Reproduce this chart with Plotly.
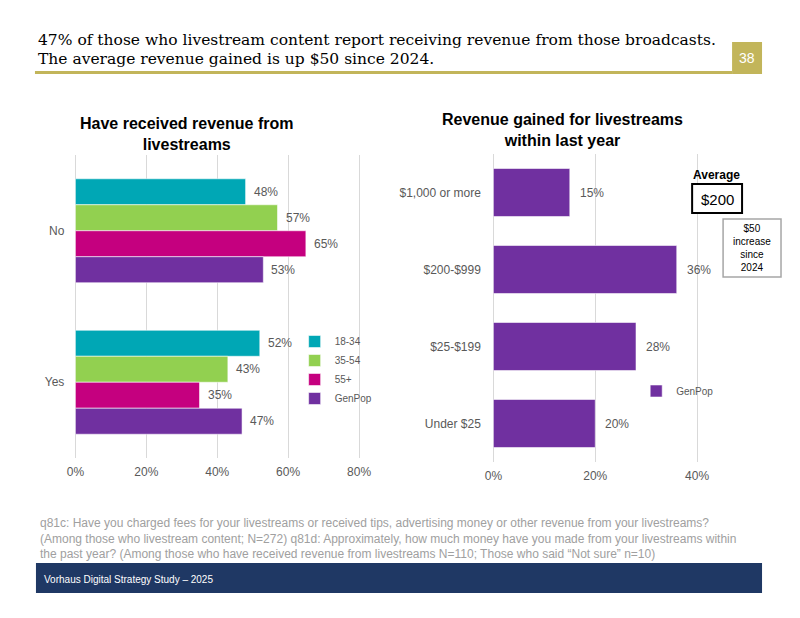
import plotly.graph_objects as go

# ---------------- data ----------------
answers = ["No", "Yes"]
age_groups = ["18-34", "35-54", "55+", "GenPop"]
received_18_34 = [48, 52]
received_35_54 = [57, 43]
received_55_plus = [65, 35]
received_genpop = [53, 47]
group_colors = ["#00A7B5", "#92D050", "#C5007F", "#7030A0"]

revenue_ranges = ["$1,000 or more", "$200-$999", "$25-$199", "Under $25"]
revenue_genpop = [15, 36, 28, 20]
revenue_color = "#7030A0"

x_ticks_left = [0, 20, 40, 60, 80]
x_ticks_right = [0, 20, 40]

title_left = "Have received revenue from<br>livestreams"
title_right = "Revenue gained for livestreams<br>within last year"
header_lines = [
    "47% of those who livestream content report receiving revenue from those broadcasts.",
    "The average revenue gained is up $50 since 2024.",
]
page_number = "38"
average_label = "Average"
average_value = "$200"
average_note = "$50<br>increase<br>since<br>2024"
footnote = ("q81c: Have you charged fees for your livestreams or received tips, advertising money or other revenue from your livestreams?<br>"
            "(Among those who livestream content; N=272) q81d: Approximately, how much money have you made from your livestreams within<br>"
            "the past year? (Among those who have received revenue from livestreams N=110; Those who said \u201cNot sure\u201d n=10)")
footer_band = "Vorhaus Digital Strategy Study \u2013 2025"

# ---------------- helpers ----------------
W, H = 800, 618
PAGE_OFF, PAGE_W = 8, 784   # horizontal placement of the plot area as seen in the photographed page
def X(px):
    return (px - PAGE_OFF) / PAGE_W
def Y(px):
    return 1 - px / H

SANS = "Liberation Sans, Arial, sans-serif"
SERIF = "DejaVu Serif, Georgia, serif"
GRAY = "#595959"
GRID = "#D9D9D9"
OLIVE = "#C2B55A"
NAVY = "#1F3864"

left_series = [received_18_34, received_35_54, received_55_plus, received_genpop]

fig = go.Figure()

# left grouped bars (explicit widths/offsets)
n = len(age_groups)
group_w = 0.686
bw = group_w / n
for i, (name, vals, col) in enumerate(zip(age_groups, left_series, group_colors)):
    off = -group_w / 2 + i * bw
    fig.add_trace(go.Bar(
        y=answers, x=vals, orientation="h", name=name,
        width=bw, offset=off,
        marker=dict(color=col, line=dict(color="rgba(255,255,255,0.55)", width=1)),
        xaxis="x", yaxis="y", legend="legend",
        hoverinfo="x+y+name",
    ))
    for j, v in enumerate(vals):
        fig.add_annotation(
            x=v, y=j + off + bw / 2, xref="x", yref="y",
            text=f"{v}%", showarrow=False, xanchor="left", yanchor="middle",
            xshift=6, font=dict(family=SANS, size=12, color=GRAY),
        )

# right bars
rw = 0.623
fig.add_trace(go.Bar(
    y=revenue_ranges, x=revenue_genpop, orientation="h", name="GenPop",
    width=rw, offset=-rw / 2,
    marker=dict(color=revenue_color, line=dict(color="rgba(255,255,255,0.55)", width=1)),
    xaxis="x2", yaxis="y2", legend="legend2",
))
for j, v in enumerate(revenue_genpop):
    fig.add_annotation(
        x=v, y=revenue_ranges[j], xref="x2", yref="y2",
        text=f"{v}%", showarrow=False, xanchor="left", yanchor="middle",
        xshift=8, font=dict(family=SANS, size=12, color=GRAY),
    )

# ---------------- axes ----------------
lpx = 3.55   # px per percent, left
rpx = 5.1    # px per percent, right
axis_common = dict(
    showgrid=True, gridcolor=GRID, gridwidth=1, zeroline=False, showline=False,
    ticks="", tickfont=dict(family=SANS, size=12, color=GRAY), fixedrange=True,
)
fig.update_layout(
    xaxis=dict(
        domain=[X(75.5 - 0.3 * lpx), X(75.5 + 81 * lpx)], range=[-0.3, 81],
        tickvals=x_ticks_left, ticktext=[f"{t}%" for t in x_ticks_left],
        anchor="y", ticklabelstandoff=5, **axis_common,
    ),
    yaxis=dict(
        domain=[Y(458), Y(155)], type="category", categoryorder="array",
        categoryarray=answers, range=[1.5, -0.5], showgrid=False, zeroline=False,
        showline=False, ticks="", tickfont=dict(family=SANS, size=12, color=GRAY),
        anchor="x", ticklabelstandoff=9,
    ),
    xaxis2=dict(
        domain=[X(494 - 0.3 * rpx), X(494 + 42 * rpx)], range=[-0.3, 42],
        tickvals=x_ticks_right, ticktext=[f"{t}%" for t in x_ticks_right],
        anchor="y2", ticklabelstandoff=5, **axis_common,
    ),
    yaxis2=dict(
        domain=[Y(462), Y(154)], type="category", categoryorder="array",
        categoryarray=revenue_ranges, range=[3.5, -0.5], showgrid=False, zeroline=False,
        showline=False, ticks="", tickfont=dict(family=SANS, size=12, color=GRAY),
        anchor="x2", ticklabelstandoff=10,
    ),
    barmode="overlay",
    width=W, height=H, autosize=False,
    margin=dict(l=0, r=0, t=0, b=0),
    paper_bgcolor="white", plot_bgcolor="white",
    legend=dict(
        x=X(295), y=Y(370), xanchor="left", yanchor="middle",
        font=dict(family=SANS, size=10, color=GRAY), bgcolor="rgba(0,0,0,0)",
        traceorder="normal", itemclick=False, itemdoubleclick=False,
    ),
    legend2=dict(
        x=X(637), y=Y(391), xanchor="left", yanchor="middle",
        font=dict(family=SANS, size=10, color=GRAY), bgcolor="rgba(0,0,0,0)",
        itemclick=False, itemdoubleclick=False,
    ),
    showlegend=True,
)

# ---------------- titles & text ----------------
fig.add_annotation(x=X(187), y=Y(134), xref="paper", yref="paper", text=f"<b>{title_left}</b>",
                   showarrow=False, xanchor="center", yanchor="middle",
                   font=dict(family=SANS, size=16, color="black"))
fig.add_annotation(x=X(563), y=Y(130), xref="paper", yref="paper", text=f"<b>{title_right}</b>",
                   showarrow=False, xanchor="center", yanchor="middle",
                   font=dict(family=SANS, size=16, color="black"))

for line, ypx in zip(header_lines, [40, 59]):
    fig.add_annotation(x=X(36), y=Y(ypx), xref="paper", yref="paper", text=line,
                       showarrow=False, xanchor="left", yanchor="middle",
                       font=dict(family=SERIF, size=15.5, color="black"))

# header underline and page box
fig.add_shape(type="line", xref="paper", yref="paper", x0=X(35), x1=X(733), y0=Y(72.5), y1=Y(72.5),
              line=dict(color=OLIVE, width=3))
fig.add_shape(type="rect", xref="paper", yref="paper", x0=X(733), x1=X(763), y0=Y(74), y1=Y(42),
              fillcolor=OLIVE, line=dict(width=0))
fig.add_annotation(x=X(748), y=Y(58), xref="paper", yref="paper", text=page_number, showarrow=False,
                   xanchor="center", yanchor="middle", font=dict(family=SANS, size=14, color="white"))

# average callouts
fig.add_annotation(x=X(717), y=Y(175), xref="paper", yref="paper", text=f"<b>{average_label}</b>",
                   showarrow=False, xanchor="center", yanchor="middle",
                   font=dict(family=SANS, size=12, color="black"))
fig.add_shape(type="rect", xref="paper", yref="paper", x0=X(693), x1=X(743), y0=Y(213), y1=Y(184),
              line=dict(color="black", width=2), fillcolor="white")
fig.add_annotation(x=X(718), y=Y(199), xref="paper", yref="paper", text=average_value,
                   showarrow=False, xanchor="center", yanchor="middle",
                   font=dict(family=SANS, size=15, color="black"))
fig.add_shape(type="rect", xref="paper", yref="paper", x0=X(724), x1=X(782), y0=Y(277), y1=Y(219),
              line=dict(color="#A6A6A6", width=1.5), fillcolor="white")
fig.add_annotation(x=X(753), y=Y(248), xref="paper", yref="paper", text=average_note,
                   showarrow=False, xanchor="center", yanchor="middle", align="center",
                   font=dict(family=SANS, size=10, color="black"))

# footnote
fig.add_annotation(x=X(38), y=Y(538), xref="paper", yref="paper", text=footnote,
                   showarrow=False, xanchor="left", yanchor="middle", align="left",
                   font=dict(family=SANS, size=12, color="#A0A0A0"))

# footer band
fig.add_shape(type="rect", xref="paper", yref="paper", x0=X(36), x1=X(763), y0=Y(593), y1=Y(563),
              fillcolor=NAVY, line=dict(width=0), layer="below")
fig.add_annotation(x=X(42), y=Y(579), xref="paper", yref="paper", text=footer_band,
                   showarrow=False, xanchor="left", yanchor="middle",
                   font=dict(family=SANS, size=10, color="white"))

fig.write_html("out.html")
